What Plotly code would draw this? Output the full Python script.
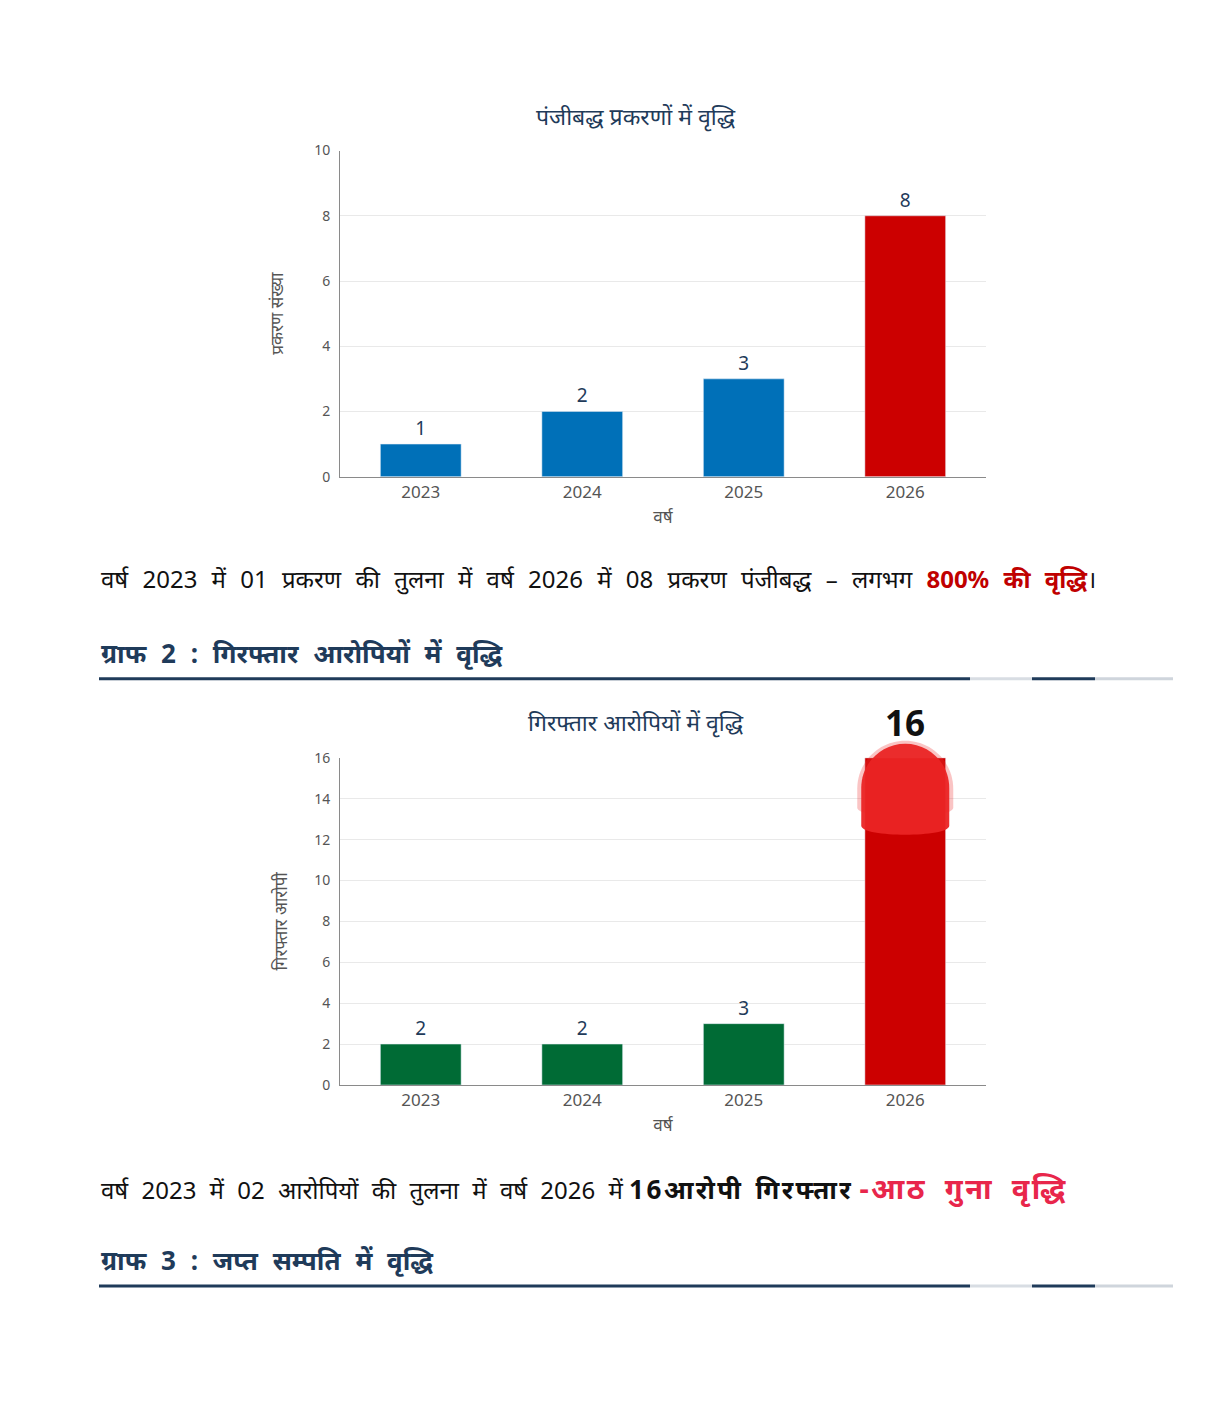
import plotly.graph_objects as go

# ---- data ----
years = ["2023", "2024", "2025", "2026"]
cases = [1, 2, 3, 8]
arrested = [2, 2, 3, 16]

case_colors = ["#0070b8", "#0070b8", "#0070b8", "#cc0000"]
arrest_colors = ["#006b35", "#006b35", "#006b35", "#cc0000"]

title1 = "पंजीबद्ध प्रकरणों में वृद्धि"
title2 = "गिरफ्तार आरोपियों में वृद्धि"
ytitle1 = "प्रकरण संख्या"
ytitle2 = "गिरफ्तार आरोपी"
xtitle = "वर्ष"

W, H = 1220, 1401
# the captured page shows the figure shifted down ~9.5px and squeezed ~1.4% vertically
OFF, SQ = 9.5, 0.986
NAVY = "#1f3b5a"
GREY = "#555555"
FONT = "Noto Sans, Open Sans, sans-serif"

# plot areas in page pixels
X0, X1 = 340, 986
C1_TOP, C1_BOT = 150, 476
C2_TOP, C2_BOT = 757, 1084


def py(y):
    # page pixel row -> paper fraction
    return 1 - ((y - OFF) / SQ) / H


fig = go.Figure()

fig.add_trace(go.Bar(
    x=years, y=cases, marker_color=case_colors, width=0.5,
    text=cases, textposition="outside", cliponaxis=False,
    textfont=dict(size=19, color=NAVY),
    xaxis="x", yaxis="y", showlegend=False,
))

fig.add_trace(go.Bar(
    x=years, y=arrested, marker_color=arrest_colors, width=0.5,
    text=[str(v) for v in arrested[:-1]] + [" "], textposition="outside", cliponaxis=False,
    textfont=dict(size=19, color=NAVY),
    xaxis="x2", yaxis="y2", showlegend=False,
))

axis_common = dict(
    type="category",
    showline=True, linecolor="#8a8a8a", linewidth=1,
    tickfont=dict(size=17, color=GREY),
    ticks="", fixedrange=True,
)
yaxis_common = dict(
    showline=True, linecolor="#8a8a8a", linewidth=1,
    showgrid=True, gridcolor="#e9e9e9",
    tickfont=dict(size=14, color=GREY), ticklabelstandoff=6,
    zeroline=False, dtick=2, ticks="",
)

fig.update_layout(
    width=W, height=H,
    margin=dict(l=0, r=0, t=0, b=0),
    paper_bgcolor="white", plot_bgcolor="white",
    font=dict(family=FONT),
    xaxis=dict(axis_common, domain=[X0 / W, X1 / W], anchor="y",
               title=dict(text=xtitle, font=dict(size=17, color=GREY), standoff=8)),
    yaxis=dict(yaxis_common, domain=[py(C1_BOT), py(C1_TOP)], anchor="x", range=[0, 10],
               title=dict(text=ytitle1, font=dict(size=17, color=GREY), standoff=26)),
    xaxis2=dict(axis_common, domain=[X0 / W, X1 / W], anchor="y2",
                title=dict(text=xtitle, font=dict(size=17, color=GREY), standoff=8)),
    yaxis2=dict(yaxis_common, domain=[py(C2_BOT), py(C2_TOP)], anchor="x2", range=[0, 16],
                title=dict(text=ytitle2, font=dict(size=17, color=GREY), standoff=22)),
)

# blurred rounded highlight on top of the last bar in chart 2
bar_cx = (X0 + (X1 - X0) * (3.5 / 4)) / W
bar_top = py(C2_BOT) + (py(C2_TOP) - py(C2_BOT)) * arrested[-1] / 16
k = 0.5523


def capsule(r, top, bot):
    c = top - r
    return (f"M {-r},{c} C {-r},{c + k * r} {-k * r},{top} 0,{top} "
            f"C {k * r},{top} {r},{c + k * r} {r},{c} "
            f"L {r},{bot + 12} C {r},{bot} {-r},{bot} {-r},{bot + 12} Z")


for rr, top, bot, col in [(48, 17, -62, "rgba(238,60,60,0.30)"),
                          (44, 14, -80, "rgba(234,36,36,0.95)")]:
    fig.add_shape(type="path", xref="paper", yref="paper",
                  xsizemode="pixel", ysizemode="pixel",
                  xanchor=bar_cx, yanchor=bar_top,
                  path=capsule(rr, top, bot),
                  fillcolor=col, line=dict(width=0), layer="above")

# big label above the highlighted bar
fig.add_annotation(x=bar_cx, y=bar_top, xref="paper", yref="paper",
                   text=f"<b>{arrested[-1]}</b>", showarrow=False,
                   xanchor="center", yanchor="bottom", yshift=10,
                   font=dict(size=35, color="#111111", family="Open Sans, Noto Sans, sans-serif"))

annotations = [
    dict(text=title1, x=636 / W, y=py(115), xanchor="center", font=dict(size=23, color=NAVY)),
    dict(text=title2, x=636 / W, y=py(721), xanchor="center", font=dict(size=23, color=NAVY)),
    dict(text="<span style='word-spacing:8px'>वर्ष 2023 में 01 प्रकरण की तुलना में वर्ष 2026 में "
              "08 प्रकरण पंजीबद्ध – लगभग </span>"
              "<b><span style='color:#c00000;word-spacing:8px'>800% की वृद्धि</span></b>।",
         x=99 / W, y=py(578), font=dict(size=24, color="#111111")),
    dict(text="<b><span style='word-spacing:8px'>ग्राफ 2 : गिरफ्तार आरोपियों में वृद्धि</span></b>",
         x=99 / W, y=py(652), font=dict(size=26, color=NAVY)),
    dict(text="<span style='word-spacing:7px'>वर्ष 2023 में 02 आरोपियों की तुलना में वर्ष 2026 में</span> "
              "<b><span style='font-size:26px;word-spacing:3px;letter-spacing:2.4px'>16आरोपी गिरफ्तार</span></b> "
              "<b><span style='color:#e8264b;font-size:29px;word-spacing:8px;letter-spacing:2.4px'>-आठ गुना वृद्धि</span></b>",
         x=99 / W, y=py(1186), font=dict(size=24, color="#111111")),
    dict(text="<b><span style='word-spacing:8px'>ग्राफ 3 : जप्त सम्पति में वृद्धि</span></b>",
         x=99 / W, y=py(1259), font=dict(size=26, color=NAVY)),
]
for a in annotations:
    a.update(xref="paper", yref="paper", showarrow=False, yanchor="middle")
    a.setdefault("xanchor", "left")
    fig.add_annotation(**a)

# section rules under headings (dark with faded patches near the end)
for yy in (678, 1285):
    segs = [(99, 970, NAVY), (970, 1032, "#d8dde3"), (1032, 1095, NAVY), (1095, 1173, "#cfd5dc")]
    for x0, x1, c in segs:
        fig.add_shape(type="line", xref="paper", yref="paper",
                      x0=x0 / W, x1=x1 / W, y0=py(yy), y1=py(yy),
                      line=dict(color=c, width=3))

fig.write_html("out.html", config={"displayModeBar": False},
               post_script="document.body.style.margin='0';document.body.style.padding='0';")
